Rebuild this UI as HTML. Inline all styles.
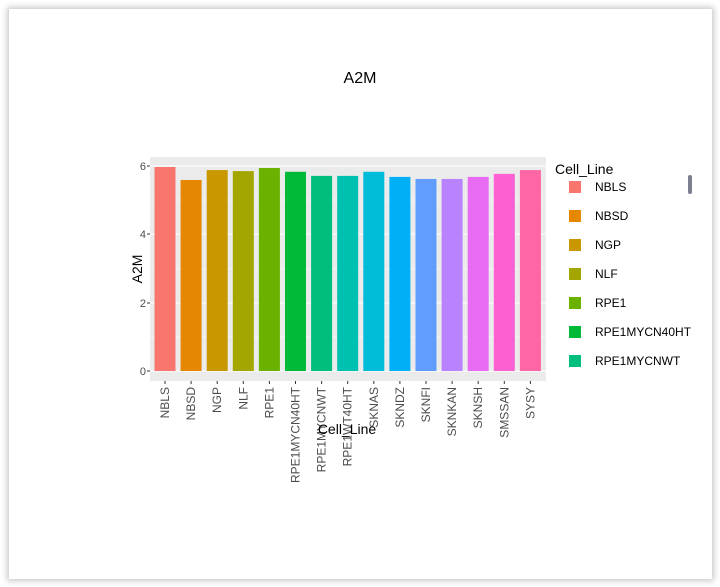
<!DOCTYPE html>
<html><head><meta charset="utf-8"><style>
html,body{margin:0;padding:0;background:#fff;width:720px;height:587px;overflow:hidden;}
.card{position:absolute;left:9px;top:9px;width:703px;height:570px;background:#fff;box-shadow:0 0 6px 2px rgba(0,0,0,0.22);}
svg{position:absolute;left:0;top:0;}
</style></head><body>
<div class="card"></div>
<svg width="720" height="587" xmlns="http://www.w3.org/2000/svg" font-family="Liberation Sans, sans-serif">
<text x="360" y="83" text-anchor="middle" font-size="16" fill="#000">A2M</text>
<rect x="150" y="157" width="396" height="224" fill="#ebebeb"/>
<g stroke="#fff" stroke-width="0.6">
<line x1="150" x2="546" y1="337" y2="337"/><line x1="150" x2="546" y1="269" y2="269"/><line x1="150" x2="546" y1="200" y2="200"/>
</g>
<g stroke="#fff" stroke-width="1.1">
<line x1="150" x2="546" y1="371" y2="371"/><line x1="150" x2="546" y1="303" y2="303"/><line x1="150" x2="546" y1="234" y2="234"/><line x1="150" x2="546" y1="166" y2="166"/>
</g>
<g id="bars"></g>
<g font-size="11" fill="#4d4d4d" text-anchor="end">
<text x="146" y="375">0</text><text x="146" y="307">2</text><text x="146" y="238">4</text><text x="146" y="170">6</text>
</g>
<g stroke="#333" stroke-width="1">
<line x1="147" x2="150" y1="371" y2="371"/><line x1="147" x2="150" y1="303" y2="303"/><line x1="147" x2="150" y1="234" y2="234"/><line x1="147" x2="150" y1="166" y2="166"/>
</g>
<g id="xl" font-size="12" fill="#4d4d4d"></g>
<text x="347" y="434" text-anchor="middle" font-size="14" fill="#000">Cell_Line</text>
<text transform="translate(142,269) rotate(-90)" text-anchor="middle" font-size="14" fill="#000">A2M</text>
<text x="555" y="174" font-size="14" fill="#000">Cell_Line</text>
<g id="leg" font-size="12" fill="#000"></g>
<rect x="688" y="175" width="4" height="19" rx="2" fill="#7a8090"/>
</svg>
<script>
var names=["NBLS","NBSD","NGP","NLF","RPE1","RPE1MYCN40HT","RPE1MYCNWT","RPE1WT40HT","SKNAS","SKNDZ","SKNFI","SKNKAN","SKNSH","SMSSAN","SYSY"];
var vals=[5.97,5.59,5.88,5.85,5.94,5.83,5.71,5.71,5.83,5.68,5.62,5.62,5.68,5.77,5.88];
var cols=["#F8766D","#E58700","#C99800","#A3A500","#6BB100","#00BA38","#00BF7D","#00C0AF","#00BCD8","#00B0F6","#619CFF","#B983FF","#E76BF3","#FD61D1","#FF67A4"];
var ns="http://www.w3.org/2000/svg",b=document.getElementById("bars"),xl=document.getElementById("xl"),lg=document.getElementById("leg");
for(var i=0;i<15;i++){var cx=165+i*26.1,h=vals[i]*34.17;
var r=document.createElementNS(ns,"rect");r.setAttribute("x",cx-10.5);r.setAttribute("width",21);r.setAttribute("y",371-h);r.setAttribute("height",h);r.setAttribute("fill",cols[i]);b.appendChild(r);
var t=document.createElementNS(ns,"line");t.setAttribute("x1",cx);t.setAttribute("x2",cx);t.setAttribute("y1",381);t.setAttribute("y2",384);t.setAttribute("stroke","#333");b.appendChild(t);
var tx=document.createElementNS(ns,"text");tx.setAttribute("transform","translate("+(cx+4)+",387) rotate(-90)");tx.setAttribute("text-anchor","end");tx.textContent=names[i];xl.appendChild(tx);}
for(var j=0;j<7;j++){var y=181+j*29;var r=document.createElementNS(ns,"rect");r.setAttribute("x",569);r.setAttribute("y",y);r.setAttribute("width",12);r.setAttribute("height",12);r.setAttribute("fill",cols[j]);lg.appendChild(r);
var tx=document.createElementNS(ns,"text");tx.setAttribute("x",595);tx.setAttribute("y",y+10);tx.textContent=names[j];lg.appendChild(tx);}
</script>
</body></html>
